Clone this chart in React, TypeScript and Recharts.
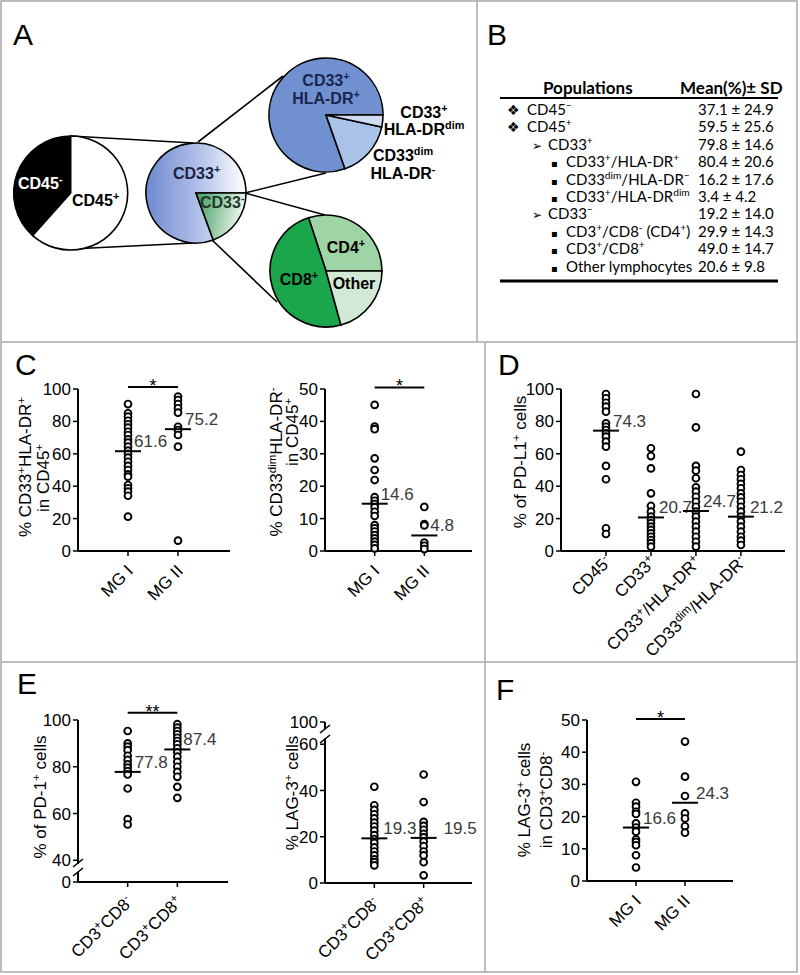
import React from 'react';
import { PieChart, Pie, Cell, ScatterChart, Scatter, XAxis, YAxis, ReferenceLine } from 'recharts';

const FONT = '"Liberation Sans", Arial, Helvetica, sans-serif';
const TFONT = 'Lato, "Open Sans", sans-serif';

// ---------- Panel A: pie data ----------
const cd45Split = [
  { name: 'CD45-', value: 37.1 },
  { name: 'CD45+', value: 59.5 },
];
const cd33Split = [
  { name: 'CD33+', value: 79.8 },
  { name: 'CD33-', value: 19.2 },
];
const cd33PosSubsets = [
  { name: 'CD33+/HLA-DR+', value: 80.4 },
  { name: 'CD33dim/HLA-DR-', value: 16.2 },
  { name: 'CD33+/HLA-DRdim', value: 3.4 },
];
const cd33NegSubsets = [
  { name: 'CD4+', value: 29.9 },
  { name: 'CD8+', value: 49.0 },
  { name: 'Other', value: 20.6 },
];

// ---------- Panel B: table ----------
const tableHeader = ['Populations', 'Mean(%)± SD'];
const tableLevels = [0, 0, 1, 2, 2, 2, 1, 2, 2, 2];
const tableLabels = [
  'CD45^{−}', 'CD45^{+}', 'CD33^{+}', 'CD33^{+}/HLA-DR^{+}', 'CD33^{dim}/HLA-DR^{−}',
  'CD33^{+}/HLA-DR^{dim}', 'CD33^{−}', 'CD3^{+}/CD8^{-} (CD4^{+})', 'CD3^{+}/CD8^{+}', 'Other lymphocytes',
];
const tableValues = [
  '37.1 ± 24.9', '59.5 ± 25.6', '79.8 ± 14.6', '80.4 ± 20.6', '16.2 ± 17.6',
  '3.4 ± 4.2', '19.2 ± 14.0', '29.9 ± 14.3', '49.0 ± 14.7', '20.6 ± 9.8',
];

// ---------- Panel C ----------
const mgCategories = ['MG I', 'MG II'];
const cHlaDrPosMG1 = [90.7, 85.0, 82.9, 80.4, 78.2, 76.1, 73.6, 71.6, 68.9, 66.9, 64.4, 61.9, 59.9, 57.6, 55.1, 52.5, 50.0, 47.3, 45.9, 40.7, 38.7, 36.6, 34.1, 21.2];
const cHlaDrPosMG2 = [95.3, 93.2, 90.7, 88.1, 85.4, 76.7, 74.7, 71.6, 64.4, 6.4];
const cHlaDrPosMeans = [61.6, 75.2];
const cDimNegMG1 = [45.1, 38.4, 37.6, 28.6, 25.0, 21.9, 16.6, 15.5, 14.5, 13.5, 12.1, 10.8, 8.0, 7.0, 6.0, 4.9, 3.9, 2.9, 1.9, 0.8];
const cDimNegMG2 = [13.6, 8.3, 7.9, 2.6, 1.6, 0.6];
const cDimNegMeans = [14.6, 4.8];

// ---------- Panel D ----------
const dCategories = ['CD45^{-}', 'CD33^{+}', 'CD33^{+}/HLA-DR^{+}', 'CD33^{dim}/HLA-DR^{-}'];
const dCD45neg = [96.9, 94.3, 91.5, 89.1, 86.0, 78.8, 76.7, 74.7, 72.7, 70.6, 67.5, 64.4, 52.5, 44.3, 14.0, 10.5];
const dCD33pos = [63.4, 58.6, 51.0, 35.6, 27.8, 24.3, 21.2, 19.1, 17.1, 15.0, 13.0, 10.9, 8.8, 6.8, 4.8, 2.7];
const dHlaDrPos = [96.9, 76.3, 52.5, 49.6, 44.9, 39.3, 36.6, 33.5, 30.4, 27.3, 24.3, 21.2, 18.1, 15.0, 11.9, 8.8, 5.7, 2.7];
const dDimNeg = [61.3, 50.0, 46.9, 44.3, 41.4, 38.7, 35.6, 33.1, 30.4, 27.3, 24.3, 21.2, 18.1, 15.0, 11.9, 8.8, 6.4, 3.7];
const dMeans = [74.3, 20.7, 24.7, 21.2];

// ---------- Panel E ----------
const eCategories = ['CD3^{+}CD8^{-}', 'CD3^{+}CD8^{+}'];
const ePd1CD8neg = [95.3, 90.0, 88.6, 87.1, 84.7, 82.9, 81.0, 79.6, 78.1, 76.7, 70.7, 57.6, 55.3];
const ePd1CD8pos = [98.2, 96.7, 95.3, 93.9, 92.4, 91.0, 89.6, 87.9, 86.2, 84.3, 82.1, 80.0, 77.8, 75.7, 71.4, 66.7];
const ePd1Means = [77.8, 87.4];
const ePd1TickValues = [30.7, 40, 60, 80, 100];
const ePd1TickLabels = ['0', '40', '60', '80', '100'];
const eLag3CD8neg = [41.6, 33.6, 31.6, 29.7, 27.9, 26.1, 24.4, 22.6, 20.7, 19.0, 17.3, 15.4, 13.6, 11.9, 10.2, 9.0, 7.6];
const eLag3CD8pos = [46.9, 35.0, 26.4, 24.7, 23.0, 21.2, 19.7, 17.9, 15.9, 13.6, 11.9, 9.0, 3.3];
const eLag3Means = [19.3, 19.5];
const eLag3TickValues = [0, 20, 40, 60, 69.6];
const eLag3TickLabels = ['0', '20', '40', '60', '100'];

// ---------- Panel F ----------
const fLag3MG1 = [30.8, 24.3, 23.1, 21.5, 20.8, 17.9, 16.6, 15.3, 12.9, 12.1, 11.1, 8.0, 4.2];
const fLag3MG2 = [43.3, 32.4, 26.4, 21.0, 19.4, 17.0, 15.0];
const fLag3Means = [16.6, 24.3];

const ticks100 = [0, 20, 40, 60, 80, 100];
const ticks50 = [0, 10, 20, 30, 40, 50];

// ---------- helpers ----------
function rich(s: string, sup = '68%') {
  const parts: React.ReactNode[] = [];
  const re = /\^\{([^}]*)\}/g;
  let last = 0;
  let m: RegExpExecArray | null;
  let k = 0;
  while ((m = re.exec(s))) {
    if (m.index > last) parts.push(<tspan key={k++}>{s.slice(last, m.index)}</tspan>);
    parts.push(
      <tspan key={k++} baselineShift="super" fontSize={sup}>
        {m[1]}
      </tspan>
    );
    last = m.index + m[0].length;
  }
  if (last < s.length) parts.push(<tspan key={k++}>{s.slice(last)}</tspan>);
  return parts;
}

const Dot = (p: any) => (
  <circle cx={p.cx} cy={p.cy} r={3.4} fill="#fff" stroke="#000" strokeWidth={1.9} />
);

const MeanMark = (p: any) => {
  const pl = p.payload || p;
  return (
    <g>
      <line x1={p.cx - 13} x2={p.cx + 13} y1={p.cy} y2={p.cy} stroke="#000" strokeWidth={2} />
      <text x={p.cx + (pl.dx ?? 7)} y={p.cy - 4} fontSize={17} fill="#3a3a3a" fontFamily={FONT}>
        {pl.label}
      </text>
    </g>
  );
};

type Box = { left: number; top: number; width: number; height: number };
type Plot = { x0: number; x1: number; yTop: number; yBottom: number };

function DotPanel(props: {
  box: Box;
  plot: Plot;
  xMax: number;
  yDomain: [number, number];
  yTicks: number[];
  yTickLabels?: string[];
  categories: string[];
  groups: number[][];
  means: number[];
  meanDx?: number[];
  labelDy?: number;
  sig?: { from: number; to: number; level: number; mark: string };
}) {
  const { box, plot, xMax, yDomain, yTicks, yTickLabels, categories, groups, means, meanDx, sig } = props;
  const labelDy = props.labelDy ?? 14;
  const xh = 60;
  const margin = {
    top: plot.yTop - box.top,
    right: box.left + box.width - plot.x1,
    left: 0,
    bottom: box.top + box.height - plot.yBottom - xh,
  };
  const pts = groups.flatMap((g, i) => g.map((v) => ({ x: i + 1, y: v })));
  const meanPts = means.map((m, i) => ({ x: i + 1, y: m, label: m.toFixed(1), dx: meanDx ? meanDx[i] : 7 }));
  const XTick = (tp: any) => {
    const lab = categories[Math.round(tp.payload.value) - 1] || '';
    const ax = tp.x + 6;
    const ay = tp.y + labelDy;
    return (
      <text x={ax} y={ay} transform={`rotate(-45 ${ax} ${ay})`} textAnchor="end" fontSize={17} fontFamily={FONT} fill="#000">
        {rich(lab)}
      </text>
    );
  };
  return (
    <div style={{ position: 'absolute', left: box.left, top: box.top }}>
      <ScatterChart width={box.width} height={box.height} margin={margin}>
        <XAxis
          type="number"
          dataKey="x"
          domain={[0, xMax]}
          ticks={categories.map((_, i) => i + 1)}
          interval={0}
          height={xh}
          axisLine={{ stroke: '#000', strokeWidth: 2 }}
          tickLine={{ stroke: '#000', strokeWidth: 1.5 }}
          tickSize={5}
          tickMargin={2}
          tick={XTick}
        />
        <YAxis
          type="number"
          dataKey="y"
          domain={yDomain}
          ticks={yTicks}
          interval={0}
          width={plot.x0 - box.left}
          axisLine={{ stroke: '#000', strokeWidth: 2 }}
          tickLine={{ stroke: '#000', strokeWidth: 1.5 }}
          tickSize={5}
          tickMargin={2}
          tick={{ fill: '#000', fontSize: 17, fontFamily: FONT }}
          tickFormatter={(v: number) => {
            const i = yTicks.indexOf(v);
            return yTickLabels && i >= 0 ? yTickLabels[i] : String(v);
          }}
        />
        {sig && (
          <ReferenceLine
            segment={[
              { x: sig.from, y: sig.level },
              { x: sig.to, y: sig.level },
            ]}
            stroke="#000"
            strokeWidth={2}
            ifOverflow="visible"
            label={(lp: any) => {
              const vb = lp.viewBox || {};
              const cx = (vb.x ?? 0) + (vb.width ?? 0) / 2;
              return (
                <text x={cx} y={(vb.y ?? 0) + 5} textAnchor="middle" fontSize={18} fontFamily={FONT} fill="#000">
                  {sig.mark}
                </text>
              );
            }}
          />
        )}
        <Scatter data={pts} shape={Dot} isAnimationActive={false} />
        <Scatter data={meanPts} shape={MeanMark} isAnimationActive={false} />
      </ScatterChart>
    </div>
  );
}

function RotLabel({ x, y, lines }: { x: number[]; y: number[]; lines: string[] }) {
  return (
    <g>
      {lines.map((t, i) => (
        <text
          key={i}
          transform={`translate(${x[i] + 6},${y[i]}) rotate(-90)`}
          textAnchor="middle"
          fontSize={17}
          fontFamily={FONT}
          fill="#000"
        >
          {rich(t)}
        </text>
      ))}
    </g>
  );
}

const pieStroke = { stroke: '#000', strokeWidth: 1.6 };

export default function App() {
  const bulletFor = ['❖', '➢', '▪'];
  const bulletX = [507, 532, 551];
  const textX = [527, 548, 566];
  return (
    <div style={{ position: 'absolute', left: 0, top: 0, width: 800, height: 975, background: '#fff', overflow: 'hidden' }}>
      {/* connectors & gradients beneath pies */}
      <svg width={800} height={975} style={{ position: 'absolute', left: 0, top: 0 }}>
        <defs>
          <linearGradient id="gCD33pos" x1="0" y1="0" x2="1" y2="0">
            <stop offset="0" stopColor="#6e8ad0" />
            <stop offset="0.55" stopColor="#b4c3ea" />
            <stop offset="1" stopColor="#ffffff" />
          </linearGradient>
          <linearGradient id="gCD33neg" x1="0" y1="0" x2="1" y2="0.2">
            <stop offset="0" stopColor="#3c9a5c" />
            <stop offset="1" stopColor="#f2f8f3" />
          </linearGradient>
        </defs>
        <g stroke="#000" strokeWidth={1.6}>
          <line x1={70.7} y1={136} x2={193} y2={143} />
          <line x1={70.7} y1={249} x2={193} y2={243} />
          <line x1={198} y1={142} x2={283} y2={76} />
          <line x1={245} y1={193} x2={326} y2={173} />
          <line x1={245} y1={193} x2={325} y2={215} />
          <line x1={211} y1={239} x2={277} y2={302} />
        </g>
      </svg>

      {/* Panel A pies */}
      <div style={{ position: 'absolute', left: 0, top: 0 }}>
        <PieChart width={477} height={342} margin={{ top: 0, right: 0, bottom: 0, left: 0 }}>
          <Pie data={cd45Split} dataKey="value" cx={70.7} cy={193} outerRadius={57} startAngle={90} endAngle={450} isAnimationActive={false} {...pieStroke}>
            <Cell fill="#000" />
            <Cell fill="#fff" />
          </Pie>
          <Pie data={cd33Split} dataKey="value" cx={196} cy={193} outerRadius={50} startAngle={0} endAngle={360} isAnimationActive={false} {...pieStroke}>
            <Cell fill="url(#gCD33pos)" />
            <Cell fill="url(#gCD33neg)" />
          </Pie>
          <Pie data={cd33PosSubsets} dataKey="value" cx={326} cy={115} outerRadius={57} startAngle={0} endAngle={360} isAnimationActive={false} {...pieStroke}>
            <Cell fill="#7090cf" />
            <Cell fill="#a9c3e8" />
            <Cell fill="#cfdcf2" />
          </Pie>
          <Pie data={cd33NegSubsets} dataKey="value" cx={326} cy={271} outerRadius={56} startAngle={0} endAngle={360} isAnimationActive={false} {...pieStroke}>
            <Cell fill="#9fd4a6" />
            <Cell fill="#1ba64b" />
            <Cell fill="#d3e9d7" />
          </Pie>
        </PieChart>
      </div>

      {/* Panels C, D, E, F */}
      <DotPanel
        box={{ left: 0, top: 342, width: 240, height: 298 }}
        plot={{ x0: 78, x1: 230, yTop: 389, yBottom: 551 }}
        xMax={3.04}
        yDomain={[0, 100]}
        yTicks={ticks100}
        categories={mgCategories}
        groups={[cHlaDrPosMG1, cHlaDrPosMG2]}
        means={cHlaDrPosMeans}
        meanDx={[6, 7]}
        sig={{ from: 1, to: 2, level: 101.2, mark: '*' }}
      />
      <DotPanel
        box={{ left: 240, top: 342, width: 245, height: 298 }}
        plot={{ x0: 325, x1: 472, yTop: 389, yBottom: 551 }}
        xMax={2.96}
        yDomain={[0, 50]}
        yTicks={ticks50}
        categories={mgCategories}
        groups={[cDimNegMG1, cDimNegMG2]}
        means={cDimNegMeans}
        meanDx={[6, 6]}
        sig={{ from: 1, to: 2, level: 50.5, mark: '*' }}
      />
      <DotPanel
        box={{ left: 485, top: 342, width: 312, height: 330 }}
        plot={{ x0: 561, x1: 785, yTop: 389, yBottom: 551 }}
        xMax={4.98}
        yDomain={[0, 100]}
        yTicks={ticks100}
        categories={dCategories}
        groups={[dCD45neg, dCD33pos, dHlaDrPos, dDimNeg]}
        means={dMeans}
        meanDx={[7, 8, 7, 9]}
        labelDy={5}
      />
      <DotPanel
        box={{ left: 0, top: 662, width: 240, height: 310 }}
        plot={{ x0: 78, x1: 228, yTop: 720, yBottom: 882 }}
        xMax={3.02}
        yDomain={[30.7, 100]}
        yTicks={ePd1TickValues}
        yTickLabels={ePd1TickLabels}
        categories={eCategories}
        groups={[ePd1CD8neg, ePd1CD8pos]}
        means={ePd1Means}
        meanDx={[7, 6]}
        sig={{ from: 1, to: 2, level: 103.1, mark: '**' }}
      />
      <DotPanel
        box={{ left: 240, top: 662, width: 245, height: 310 }}
        plot={{ x0: 325, x1: 472, yTop: 722, yBottom: 883 }}
        xMax={2.98}
        yDomain={[0, 69.6]}
        yTicks={eLag3TickValues}
        yTickLabels={eLag3TickLabels}
        categories={eCategories}
        groups={[eLag3CD8neg, eLag3CD8pos]}
        means={eLag3Means}
        meanDx={[9, 20]}
      />
      <DotPanel
        box={{ left: 485, top: 662, width: 312, height: 310 }}
        plot={{ x0: 587, x1: 733, yTop: 720, yBottom: 881 }}
        xMax={2.98}
        yDomain={[0, 50]}
        yTicks={ticks50}
        categories={mgCategories}
        groups={[fLag3MG1, fLag3MG2]}
        means={fLag3Means}
        meanDx={[7, 11]}
        sig={{ from: 1, to: 2, level: 50.3, mark: '*' }}
      />

      {/* overlay: borders, letters, labels, table */}
      <svg width={800} height={975} style={{ position: 'absolute', left: 0, top: 0, pointerEvents: 'none' }}>
        {/* axis breaks */}
        <rect x={72} y={864} width={14} height={8} fill="#fff" />
        <line x1={73} y1={867} x2={83} y2={859} stroke="#000" strokeWidth={1.6} />
        <line x1={73} y1={876} x2={83} y2={868} stroke="#000" strokeWidth={1.6} />
        <rect x={319} y={729} width={14} height={9} fill="#fff" />
        <line x1={320} y1={733} x2={330} y2={725} stroke="#000" strokeWidth={1.6} />
        <line x1={320} y1={743} x2={330} y2={735} stroke="#000" strokeWidth={1.6} />

        {/* borders */}
        <g stroke="#a8a8a8" strokeWidth={1.5} fill="none">
          <rect x={1} y={1} width={796} height={971} />
          <line x1={1} y1={342} x2={797} y2={342} />
          <line x1={1} y1={662} x2={797} y2={662} />
          <line x1={477} y1={1} x2={477} y2={342} />
          <line x1={485} y1={342} x2={485} y2={972} />
        </g>

        {/* panel letters */}
        <g fontFamily={FONT} fontSize={30} fill="#000">
          <text x={13} y={45}>A</text>
          <text x={487} y={45}>B</text>
          <text x={15} y={375}>C</text>
          <text x={498} y={375}>D</text>
          <text x={17} y={694}>E</text>
          <text x={496} y={700}>F</text>
        </g>

        {/* pie labels */}
        <g fontFamily={FONT} fontSize={16} fontWeight="bold">
          <text x={18} y={189} fill="#fff">{rich('CD45^{-}')}</text>
          <text x={72} y={206} fill="#000">{rich('CD45^{+}')}</text>
          <text x={173} y={179} fill="#1c2440">{rich('CD33^{+}')}</text>
          <text x={200} y={208} fill="#1e3a28">{rich('CD33^{-}')}</text>
          <text x={326} y={86} textAnchor="middle" fill="#1a2550">{rich('CD33^{+}')}</text>
          <text x={326} y={104} textAnchor="middle" fill="#1a2550">{rich('HLA-DR^{+}')}</text>
          <text x={424} y={118} textAnchor="middle" fill="#000">{rich('CD33^{+}')}</text>
          <text x={424} y={135} textAnchor="middle" fill="#000">{rich('HLA-DR^{dim}')}</text>
          <text x={403} y={161} textAnchor="middle" fill="#000">{rich('CD33^{dim}')}</text>
          <text x={403} y={179} textAnchor="middle" fill="#000">{rich('HLA-DR^{-}')}</text>
          <text x={346} y={253} textAnchor="middle" fill="#000">{rich('CD4^{+}')}</text>
          <text x={299} y={285} textAnchor="middle" fill="#000">{rich('CD8^{+}')}</text>
          <text x={354} y={289} textAnchor="middle" fill="#000">Other</text>
        </g>

        {/* table B */}
        <g fontFamily={TFONT} fill="#000">
          <text x={543} y={94} fontSize={17} fontWeight="bold">{tableHeader[0]}</text>
          <text x={680} y={94} fontSize={17} fontWeight="bold">{tableHeader[1]}</text>
          <line x1={500} y1={98} x2={778} y2={98} stroke="#000" strokeWidth={2} />
          {tableLabels.map((lab, i) => {
            const lv = tableLevels[i];
            const y = 115 + i * 17.4;
            return (
              <g key={i} fontSize={15}>
                <text x={bulletX[lv]} y={y} fontFamily='"DejaVu Sans", sans-serif' fontSize={lv === 0 ? 14 : lv === 1 ? 12 : 10}>
                  {bulletFor[lv]}
                </text>
                <text x={textX[lv]} y={y}>{rich(lab)}</text>
                <text x={698} y={y}>{tableValues[i]}</text>
              </g>
            );
          })}
          <line x1={500} y1={281} x2={778} y2={281} stroke="#000" strokeWidth={3} />
        </g>

        {/* y axis titles */}
        <RotLabel x={[25, 43]} y={[467, 478]} lines={['% CD33^{+}HLA-DR^{+}', 'in CD45^{+}']} />
        <RotLabel x={[276, 292]} y={[462, 432]} lines={['% CD33^{dim}HLA-DR^{-}', 'in CD45^{+}']} />
        <RotLabel x={[520]} y={[462]} lines={['% of PD-L1^{+} cells']} />
        <RotLabel x={[40]} y={[797]} lines={['% of PD-1^{+} cells']} />
        <RotLabel x={[292]} y={[793]} lines={['% LAG-3^{+} cells']} />
        <RotLabel x={[524, 546]} y={[800, 800]} lines={['% LAG-3^{+} cells', 'in CD3^{+}CD8^{-}']} />
      </svg>
    </div>
  );
}
